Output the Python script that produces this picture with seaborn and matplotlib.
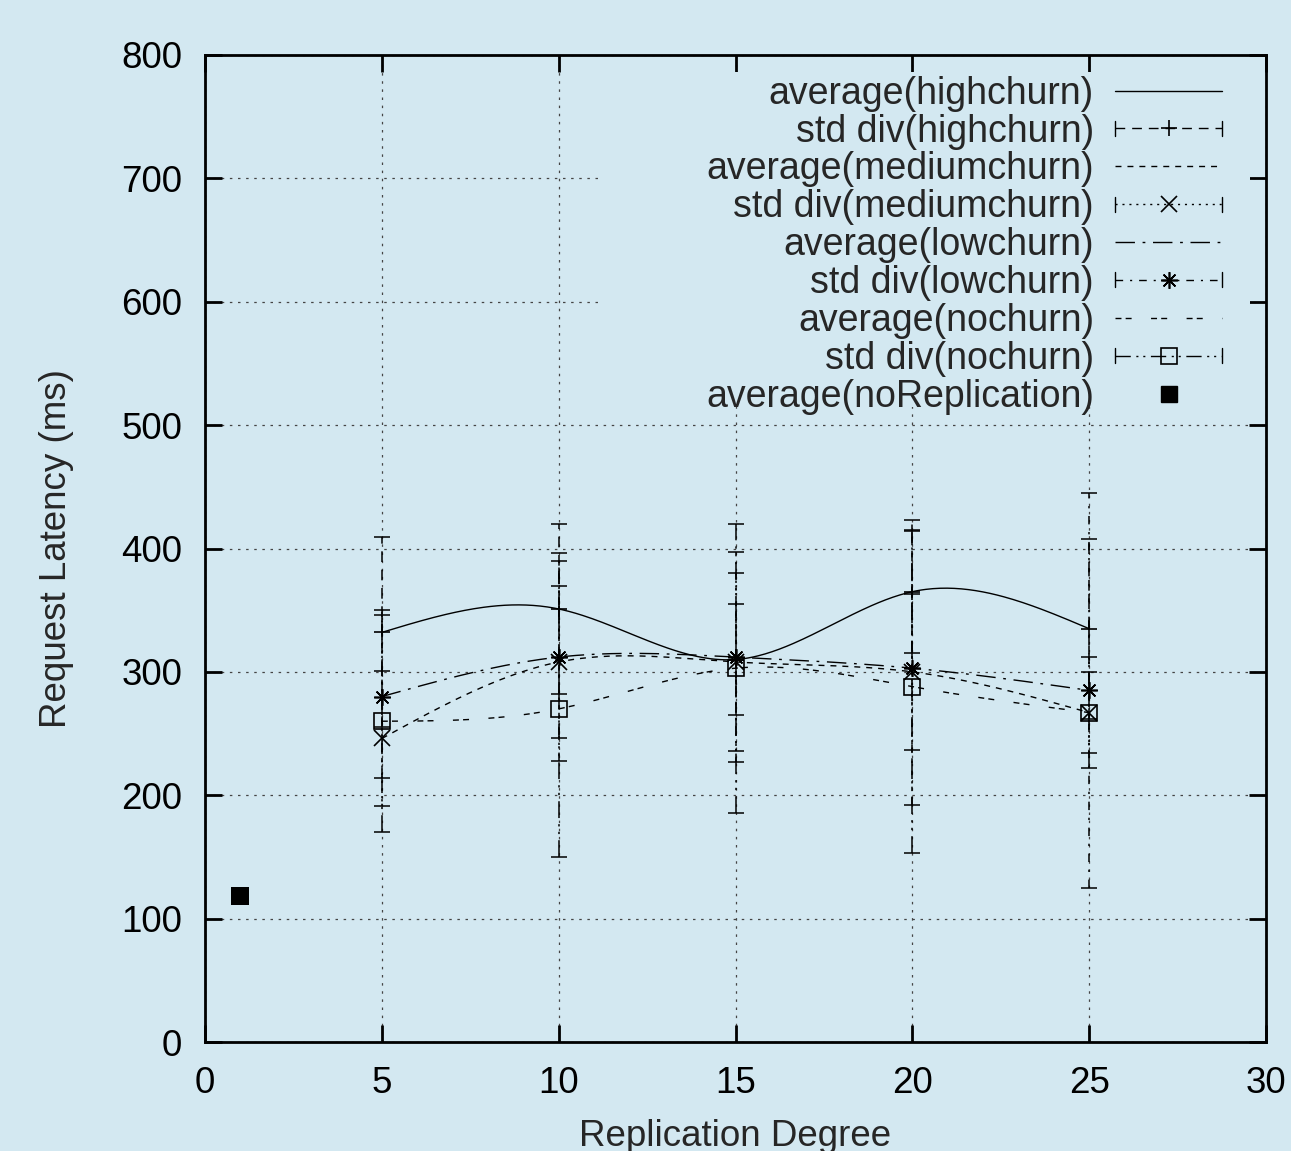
import numpy as np
import pandas as pd
import matplotlib
matplotlib.use("Agg")
import matplotlib.pyplot as plt
import seaborn as sns
from matplotlib.lines import Line2D
from matplotlib.patches import Rectangle
from matplotlib.legend_handler import HandlerLine2D

# ---------------- data ----------------
replication = [5, 10, 15, 20, 25]
high_avg = [332, 351, 310, 365, 335]
high_std = [77, 69, 45, 50, 73]
med_avg = [246, 308, 308, 300, 267]
med_std = [55, 62, 72, 63, 33]
low_avg = [280, 312, 312, 303, 285]
low_std = [66, 84, 85, 111, 160]
no_avg = [260, 270, 303, 288, 267]
no_std = [90, 120, 117, 135, 45]
norep_x = [1]
norep_avg = [118]

x_ticks = [0, 5, 10, 15, 20, 25, 30]
y_ticks = [0, 100, 200, 300, 400, 500, 600, 700, 800]

BG = "#d3e8f1"
FONT = ["Liberation Sans", "DejaVu Sans"]
FS = 26.5
LEG_FS = 27

sns.set_style("ticks")
plt.rcParams["font.family"] = FONT
plt.rcParams["font.size"] = FS


def natural_cubic(xs, ys, num=300):
    xs = np.asarray(xs, float)
    ys = np.asarray(ys, float)
    n = len(xs)
    h = np.diff(xs)
    A = np.zeros((n, n))
    b = np.zeros(n)
    A[0, 0] = 1
    A[-1, -1] = 1
    for i in range(1, n - 1):
        A[i, i - 1] = h[i - 1]
        A[i, i] = 2 * (h[i - 1] + h[i])
        A[i, i + 1] = h[i]
        b[i] = 6 * ((ys[i + 1] - ys[i]) / h[i] - (ys[i] - ys[i - 1]) / h[i - 1])
    M = np.linalg.solve(A, b)
    xf = np.linspace(xs[0], xs[-1], num)
    idx = np.clip(np.searchsorted(xs, xf) - 1, 0, n - 2)
    x0 = xs[idx]
    x1 = xs[idx + 1]
    hh = x1 - x0
    t0 = x1 - xf
    t1 = xf - x0
    yf = (M[idx] * t0 ** 3 / (6 * hh) + M[idx + 1] * t1 ** 3 / (6 * hh)
          + (ys[idx] / hh - M[idx] * hh / 6) * t0
          + (ys[idx + 1] / hh - M[idx + 1] * hh / 6) * t1)
    return xf, yf


avg_series = {
    "average(highchurn)": high_avg,
    "average(mediumchurn)": med_avg,
    "average(lowchurn)": low_avg,
    "average(nochurn)": no_avg,
}
avg_dashes = {
    "average(highchurn)": "",
    "average(mediumchurn)": (4.3, 4.3),
    "average(lowchurn)": (14, 5.5, 2, 5.5),
    "average(nochurn)": (4.3, 3, 4.3, 14),
}

frames = []
for name, vals in avg_series.items():
    xf, yf = natural_cubic(replication, vals)
    frames.append(pd.DataFrame({"x": xf, "y": yf, "series": name}))
curves = pd.concat(frames, ignore_index=True)

fig = plt.figure(figsize=(12.91, 11.51), dpi=100, facecolor=BG)
ax = fig.add_axes([205 / 1291, 1 - 1042 / 1151, (1266 - 205) / 1291, (1042 - 55) / 1151])
ax.set_facecolor(BG)
ax.set_axisbelow(True)

sns.lineplot(data=curves, x="x", y="y", hue="series", style="series",
             palette={k: "black" for k in avg_series}, dashes=avg_dashes,
             sort=False, estimator=None, linewidth=1.0, legend=False, ax=ax, zorder=3)

std_series = [
    ("std div(highchurn)", high_avg, high_std, (7, 5), "+"),
    ("std div(mediumchurn)", med_avg, med_std, (1.5, 3.5), "x"),
    ("std div(lowchurn)", low_avg, low_std, (5.5, 5, 1.5, 5), (8, 2, 0)),
    ("std div(nochurn)", no_avg, no_std, (11, 4, 1.5, 3.5, 1.5, 4), "s"),
]
for name, vals, err, dash, mk in std_series:
    cont = ax.errorbar(replication, vals, yerr=err, fmt="none", ecolor="black",
                       elinewidth=1.1, capsize=6, capthick=1.1, zorder=3)
    for lc in cont[2]:
        lc.set_linestyle((0, dash))
    ax.plot(replication, vals, linestyle="none", marker=mk, markersize=12,
            markeredgewidth=1.2, markeredgecolor="black", markerfacecolor="none",
            zorder=4)

sns.scatterplot(x=norep_x, y=norep_avg, marker="s", s=150, color="black",
                linewidth=0, ax=ax, zorder=4)

# axes style
ax.set_xlim(0, 30)
ax.set_ylim(0, 800)
ax.set_xticks(x_ticks)
ax.set_yticks(y_ticks)
ax.grid(True, color="#444444", linewidth=0.9, linestyle=(0, (2, 4.5)))
for sp in ax.spines.values():
    sp.set_linewidth(2)
    sp.set_color("black")
    sp.set_visible(True)
ax.tick_params(direction="in", length=12.5, width=2, top=True, right=True,
               labelsize=FS, colors="black")
ax.tick_params(axis="y", pad=16.5)
ax.tick_params(axis="x", pad=17)
ax.set_xlabel("Replication Degree", fontsize=FS, labelpad=13)
ax.set_ylabel("Request Latency (ms)", fontsize=FS, labelpad=34)

# key background (gnuplot key area blanks the grid)
ax.add_patch(Rectangle((0.372, 0.643), 0.985 - 0.372, 0.983 - 0.643,
                       transform=ax.transAxes, facecolor=BG, edgecolor="none", zorder=0.9))


class CapHandler(HandlerLine2D):
    def create_artists(self, legend, orig_handle, xdescent, ydescent, width,
                       height, fontsize, trans):
        arts = super().create_artists(legend, orig_handle, xdescent, ydescent,
                                      width, height, fontsize, trans)
        yc = (height - ydescent) / 2
        hgt = 0.2 * fontsize
        for xx in (-xdescent, -xdescent + width):
            ln = Line2D([xx, xx], [yc - hgt, yc + hgt], color="black", lw=1.0)
            ln.set_transform(trans)
            arts.append(ln)
        return arts


handles = []
labels = []
for (aname, aval), (sname, _, _, dash, mk) in zip(avg_series.items(), std_series):
    d = avg_dashes[aname]
    handles.append(Line2D([], [], color="black", lw=1.0,
                          linestyle="-" if d == "" else (0, d)))
    labels.append(aname)
    handles.append(Line2D([], [], color="black", lw=1.0, linestyle=(0, dash),
                          marker=mk, markersize=12, markeredgewidth=1.2,
                          markerfacecolor="none"))
    labels.append(sname)
handles.append(Line2D([], [], color="black", linestyle="none", marker="s",
                      markersize=12))
labels.append("average(noReplication)")

cap = CapHandler(numpoints=1)
hmap = {h: cap for h, l in zip(handles, labels) if l.startswith("std")}
leg = ax.legend(handles, labels, loc="upper right", markerfirst=False,
                bbox_to_anchor=(0.9585, 0.979), borderaxespad=0, borderpad=0,
                frameon=False, handlelength=2.85, handletextpad=0.56,
                labelspacing=0.05, fontsize=LEG_FS, numpoints=1, handler_map=hmap)
leg.set_zorder(5)

fig.savefig("out.png", dpi=100, facecolor=BG)
